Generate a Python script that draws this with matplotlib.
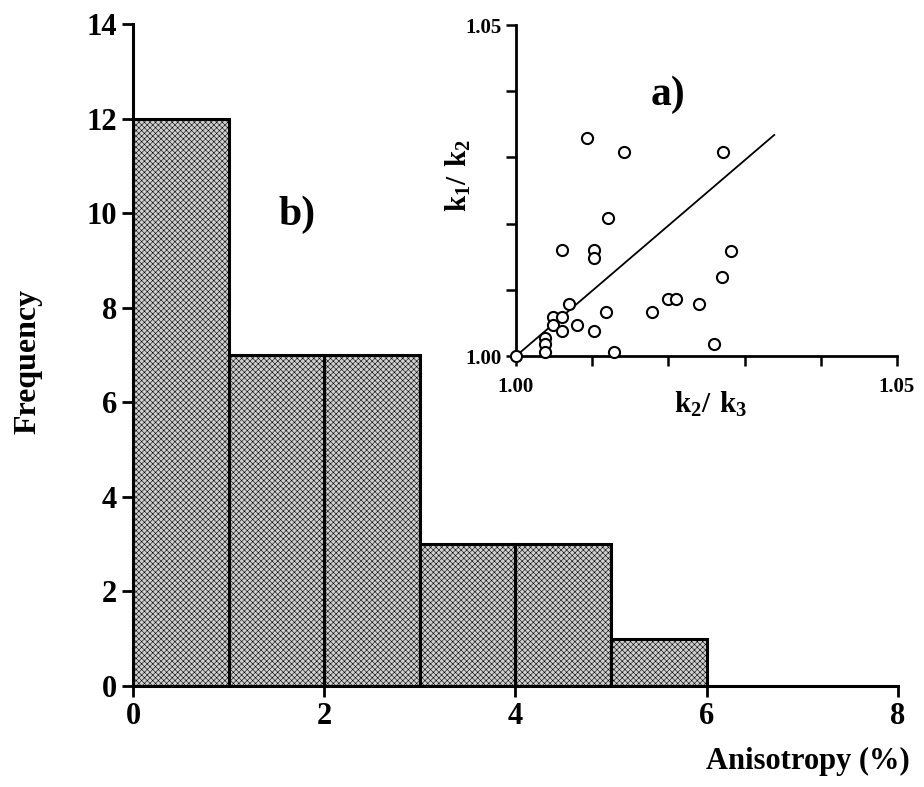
"""Anisotropy histogram with k1/k2 vs k2/k3 inset"""

import matplotlib.pyplot as plt
import numpy as np

# histogram (b)
bin_left = [0, 1, 2, 3, 4, 5]
freq = [12, 7, 7, 3, 3, 1]

# inset (a)
k2_k3 = [1.0000, 1.00934, 1.01417, 1.02719, 1.01206, 1.0061, 1.01018, 1.01018,
         1.0282, 1.0271, 1.01996, 1.02105, 1.02408, 1.01785, 1.01184, 1.00697,
         1.00491, 1.00605, 1.00491, 1.00605, 1.00798, 1.01018, 1.00386, 1.00386,
         1.00386, 1.01289, 1.0260]
k1_k2 = [1.0000, 1.0329, 1.03077, 1.03077, 1.0208, 1.0160, 1.0160, 1.01475,
         1.0159, 1.01188, 1.00866, 1.00866, 1.00785, 1.00665, 1.00665, 1.00785,
         1.00594, 1.00594, 1.00468, 1.00383, 1.00468, 1.00383, 1.00267, 1.00181,
         1.00065, 1.00065, 1.00176]
fit_x = [1.0, 1.0339]
fit_y = [1.0, 1.0334]

plt.rcParams['font.family'] = ['Liberation Serif', 'DejaVu Serif']
plt.rcParams['font.weight'] = 'bold'
plt.rcParams['mathtext.fontset'] = 'custom'
plt.rcParams['mathtext.bf'] = 'Liberation Serif:bold'
plt.rcParams['mathtext.rm'] = 'Liberation Serif:bold'
plt.rcParams['hatch.color'] = '#909090'
plt.rcParams['hatch.linewidth'] = 0.4

fig = plt.figure(figsize=(9.24, 7.87), dpi=100)
ax = fig.add_axes([0.1439, 0.1283, 0.828, 0.8412])

ax.bar(bin_left, freq, width=1, align='edge', facecolor='#cfcfcf',
       edgecolor='black', linewidth=2, hatch='xxxxxx')
# redraw outline in black over the hatch colour
ax.bar(bin_left, freq, width=1, align='edge', facecolor='none',
       edgecolor='black', linewidth=2.2)

ax.set_xlim(0, 8)
ax.set_ylim(0, 14)
ax.set_xticks(np.arange(0, 9, 2))
ax.set_yticks(np.arange(0, 15, 2))
for s in ['top', 'right']:
    ax.spines[s].set_visible(False)
for s in ['left', 'bottom']:
    ax.spines[s].set_linewidth(2.2)
ax.tick_params(width=2, length=8, labelsize=22, direction='out')
ax.set_ylabel('Frequency', fontsize=23, fontweight='bold')
ax.yaxis.set_label_coords(-0.118, 0.49)
ax.text(1.0157, -0.092, 'Anisotropy (%)', transform=ax.transAxes, ha='right',
        va='top', fontsize=22, fontweight='bold')
ax.text(1.72, 9.96, 'b)', fontsize=30, fontweight='bold', ha='center', va='center')

# inset
ins = fig.add_axes([0.5584, 0.5476, 0.4123, 0.4206])
ins.plot(fit_x, fit_y, color='black', linewidth=1.3)
ins.plot(k2_k3, k1_k2, 'o', markersize=8, markerfacecolor='white',
         markeredgecolor='black', markeredgewidth=1.5, clip_on=False, zorder=5)
ins.set_xlim(1.0, 1.05)
ins.set_ylim(1.0, 1.05)
ticks = np.linspace(1.0, 1.05, 6)
ins.set_xticks(ticks)
ins.set_yticks(ticks)
labels = ['1.00', '', '', '', '', '1.05']
ins.set_xticklabels(labels)
ins.set_yticklabels(labels)
for s in ['top', 'right']:
    ins.spines[s].set_visible(False)
for s in ['left', 'bottom']:
    ins.spines[s].set_linewidth(2)
ins.tick_params(width=1.8, length=7, labelsize=15, direction='out')
ins.tick_params(axis='x', pad=8)
ins.patch.set_alpha(0)
ins.set_xlabel(r'$\mathbf{k_2/\ k_3}$', fontsize=21)
ins.xaxis.set_label_coords(0.512, -0.103)
ins.set_ylabel(r'$\mathbf{k_1/\ k_2}$', fontsize=21)
ins.yaxis.set_label_coords(-0.113, 0.547)
ins.text(1.01995, 1.0394, 'a)', fontsize=30, fontweight='bold', ha='center', va='center')

fig.savefig('out.png', dpi=100)
